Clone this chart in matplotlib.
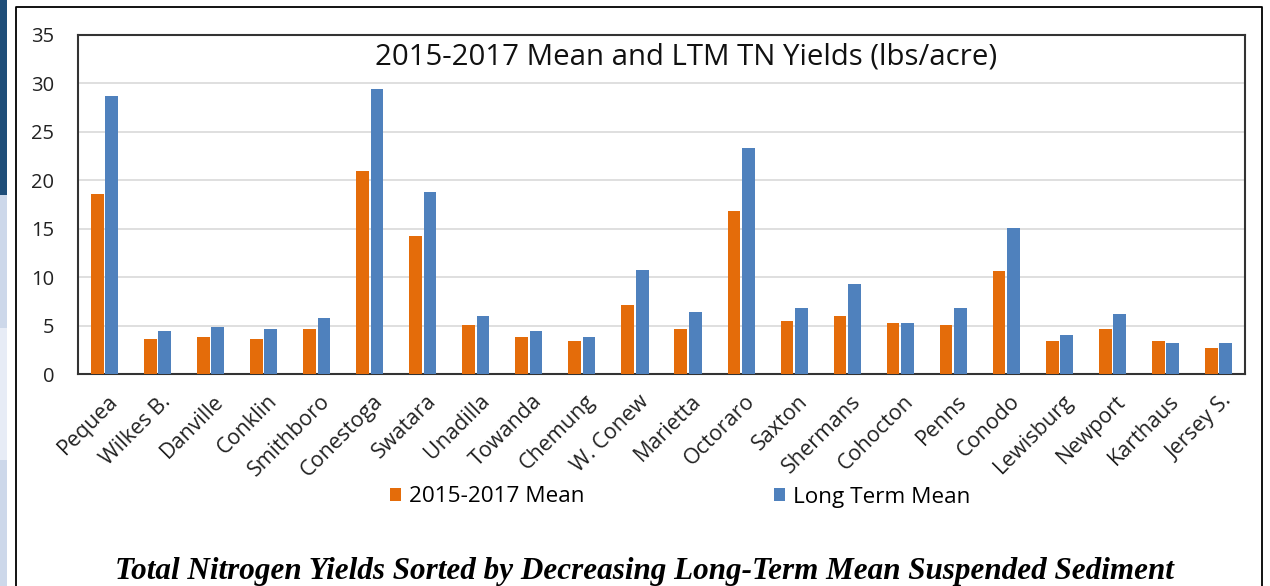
#Imports
import matplotlib.pyplot as plt
import matplotlib.patches as mpatches
import matplotlib.transforms as mtransforms
from matplotlib.lines import Line2D
import numpy as np

#Data
sites = ['Pequea', 'Wilkes B.', 'Danville', 'Conklin', 'Smithboro', 'Conestoga',
         'Swatara', 'Unadilla', 'Towanda', 'Chemung', 'W. Conew', 'Marietta',
         'Octoraro', 'Saxton', 'Shermans', 'Cohocton', 'Penns', 'Conodo',
         'Lewisburg', 'Newport', 'Karthaus', 'Jersey S.']
mean_2015_2017 = [18.6, 3.6, 3.8, 3.6, 4.65, 21.0, 14.2, 5.1, 3.8, 3.4, 7.1, 4.65,
                  16.8, 5.5, 6.0, 5.3, 5.1, 10.6, 3.4, 4.65, 3.4, 2.7]
long_term_mean = [28.7, 4.45, 4.9, 4.65, 5.75, 29.4, 18.8, 6.0, 4.45, 3.8, 10.7, 6.35,
                  23.3, 6.85, 9.3, 5.3, 6.85, 15.1, 4.0, 6.15, 3.15, 3.15]
series_labels = ['2015-2017 Mean', 'Long Term Mean']
y_ticks = [0, 5, 10, 15, 20, 25, 30, 35]

orange = '#E46C0A'
blue = '#4F81BD'
W, H = 1270, 586

plt.rcParams['font.family'] = ['Open Sans', 'DejaVu Sans']
fig = plt.figure(figsize=(12.7, 5.86), dpi=100)

#Background strip on the left (screenshot side panel)
def strip(y_top, y_bot, col):
    fig.add_artist(mpatches.Rectangle((0, 1 - y_bot / H), 7 / W, (y_bot - y_top) / H,
                                      transform=fig.transFigure, color=col, lw=0))
strip(0, 195, '#1F4E79')
strip(195, 328, '#CDD8EA')
strip(328, 460, '#E7ECF6')
strip(460, 586, '#CDD8EA')
#Outer frame
fig.add_artist(Line2D([16 / W, 16 / W, 1262 / W, 1262 / W], [0, 1 - 7 / H, 1 - 7 / H, 0],
                      transform=fig.transFigure, color='black', lw=1.3))

ax = fig.add_axes([78 / W, 1 - 374 / H, (1245 - 78) / W, (374 - 35) / H])
x = np.arange(len(sites))
bw = 0.24
b1 = ax.bar(x - 0.135, mean_2015_2017, bw, color=orange, label=series_labels[0], zorder=3)
b2 = ax.bar(x + 0.135, long_term_mean, bw, color=blue, label=series_labels[1], zorder=3)

ax.set_xlim(-0.5, len(sites) - 0.5)
ax.set_ylim(0, 35)
ax.set_yticks(y_ticks)
ax.yaxis.grid(True, color='#D9D9D9', lw=1.2, zorder=0)
ax.tick_params(axis='both', length=0)
ax.tick_params(axis='y', pad=17, labelsize=14.5, labelcolor='#222222')
ax.set_xticks(x)
ax.set_xticklabels(sites, rotation=45, ha='right', va='top', rotation_mode='anchor',
                   fontsize=15.5, color='#222222')
ax.tick_params(axis='x', pad=12)
shift = mtransforms.ScaledTranslation(3 / 100, 0, fig.dpi_scale_trans)
for lab in ax.get_xticklabels():
    lab.set_transform(lab.get_transform() + shift)
for s in ax.spines.values():
    s.set_color('#333333')
    s.set_linewidth(1.5)

ax.text(0.5214, 0.935, '2015-2017 Mean and LTM TN Yields (lbs/acre)', transform=ax.transAxes,
        fontsize=21.2, color='#111111', ha='center', va='center')

fig.legend(handles=[b1, b2], labels=series_labels, loc='center', ncol=2, frameon=False,
           bbox_to_anchor=(680 / W, 1 - 497 / H), fontsize=16.2, handlelength=0.5, handleheight=0.5,
           handletextpad=0.35, columnspacing=8.4)

fig.text(644 / W, 1 - 571 / H,
         'Total Nitrogen Yields Sorted by Decreasing Long-Term Mean Suspended Sediment',
         family='Liberation Serif', fontweight='bold', fontstyle='italic', fontsize=22.4,
         ha='center', va='center')

plt.savefig('out.png', dpi=100)
